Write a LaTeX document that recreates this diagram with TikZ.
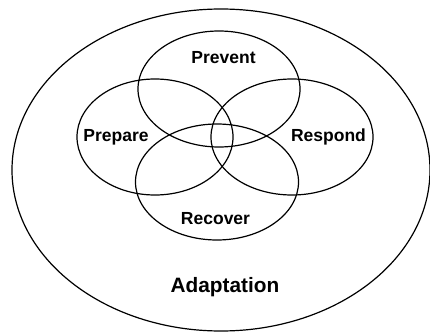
\documentclass[tikz,border=0pt]{standalone}
\usepackage{fontspec}
\setmainfont{Liberation Sans}
\usetikzlibrary{shapes.geometric}
\begin{document}
\begin{tikzpicture}[x=1pt,y=-1pt,
  ring/.style={ellipse,draw=black,line width=1.2pt,inner sep=0pt},
  lbl/.style={font=\bfseries\fontsize{17.5}{20}\selectfont,anchor=base,inner sep=0pt},
  biglbl/.style={font=\bfseries\fontsize{20.8}{24}\selectfont,anchor=base,inner sep=0pt}]
\useasboundingbox (0,0) rectangle (430,334);
\node[ring,minimum width=418pt,minimum height=322pt] (outer) at (221,170) {};
\node[ring,minimum width=162pt,minimum height=116pt] (prevent) at (219,89) {};
\node[ring,minimum width=156pt,minimum height=116pt] (prepare) at (155,137) {};
\node[ring,minimum width=162pt,minimum height=116pt] (respond) at (292,137) {};
\node[ring,minimum width=163pt,minimum height=116pt] (recover) at (217,182) {};
\node[lbl] (tprevent) at (223.5,64) {Prevent};
\node[lbl] (tprepare) at (116,141.7) {Prepare};
\node[lbl] (trespond) at (328.5,141.7) {Respond};
\node[lbl] (trecover) at (215.5,224) {Recover};
\node[biglbl] (tadapt) at (225,292.3) {Adaptation};
\end{tikzpicture}
\end{document}
